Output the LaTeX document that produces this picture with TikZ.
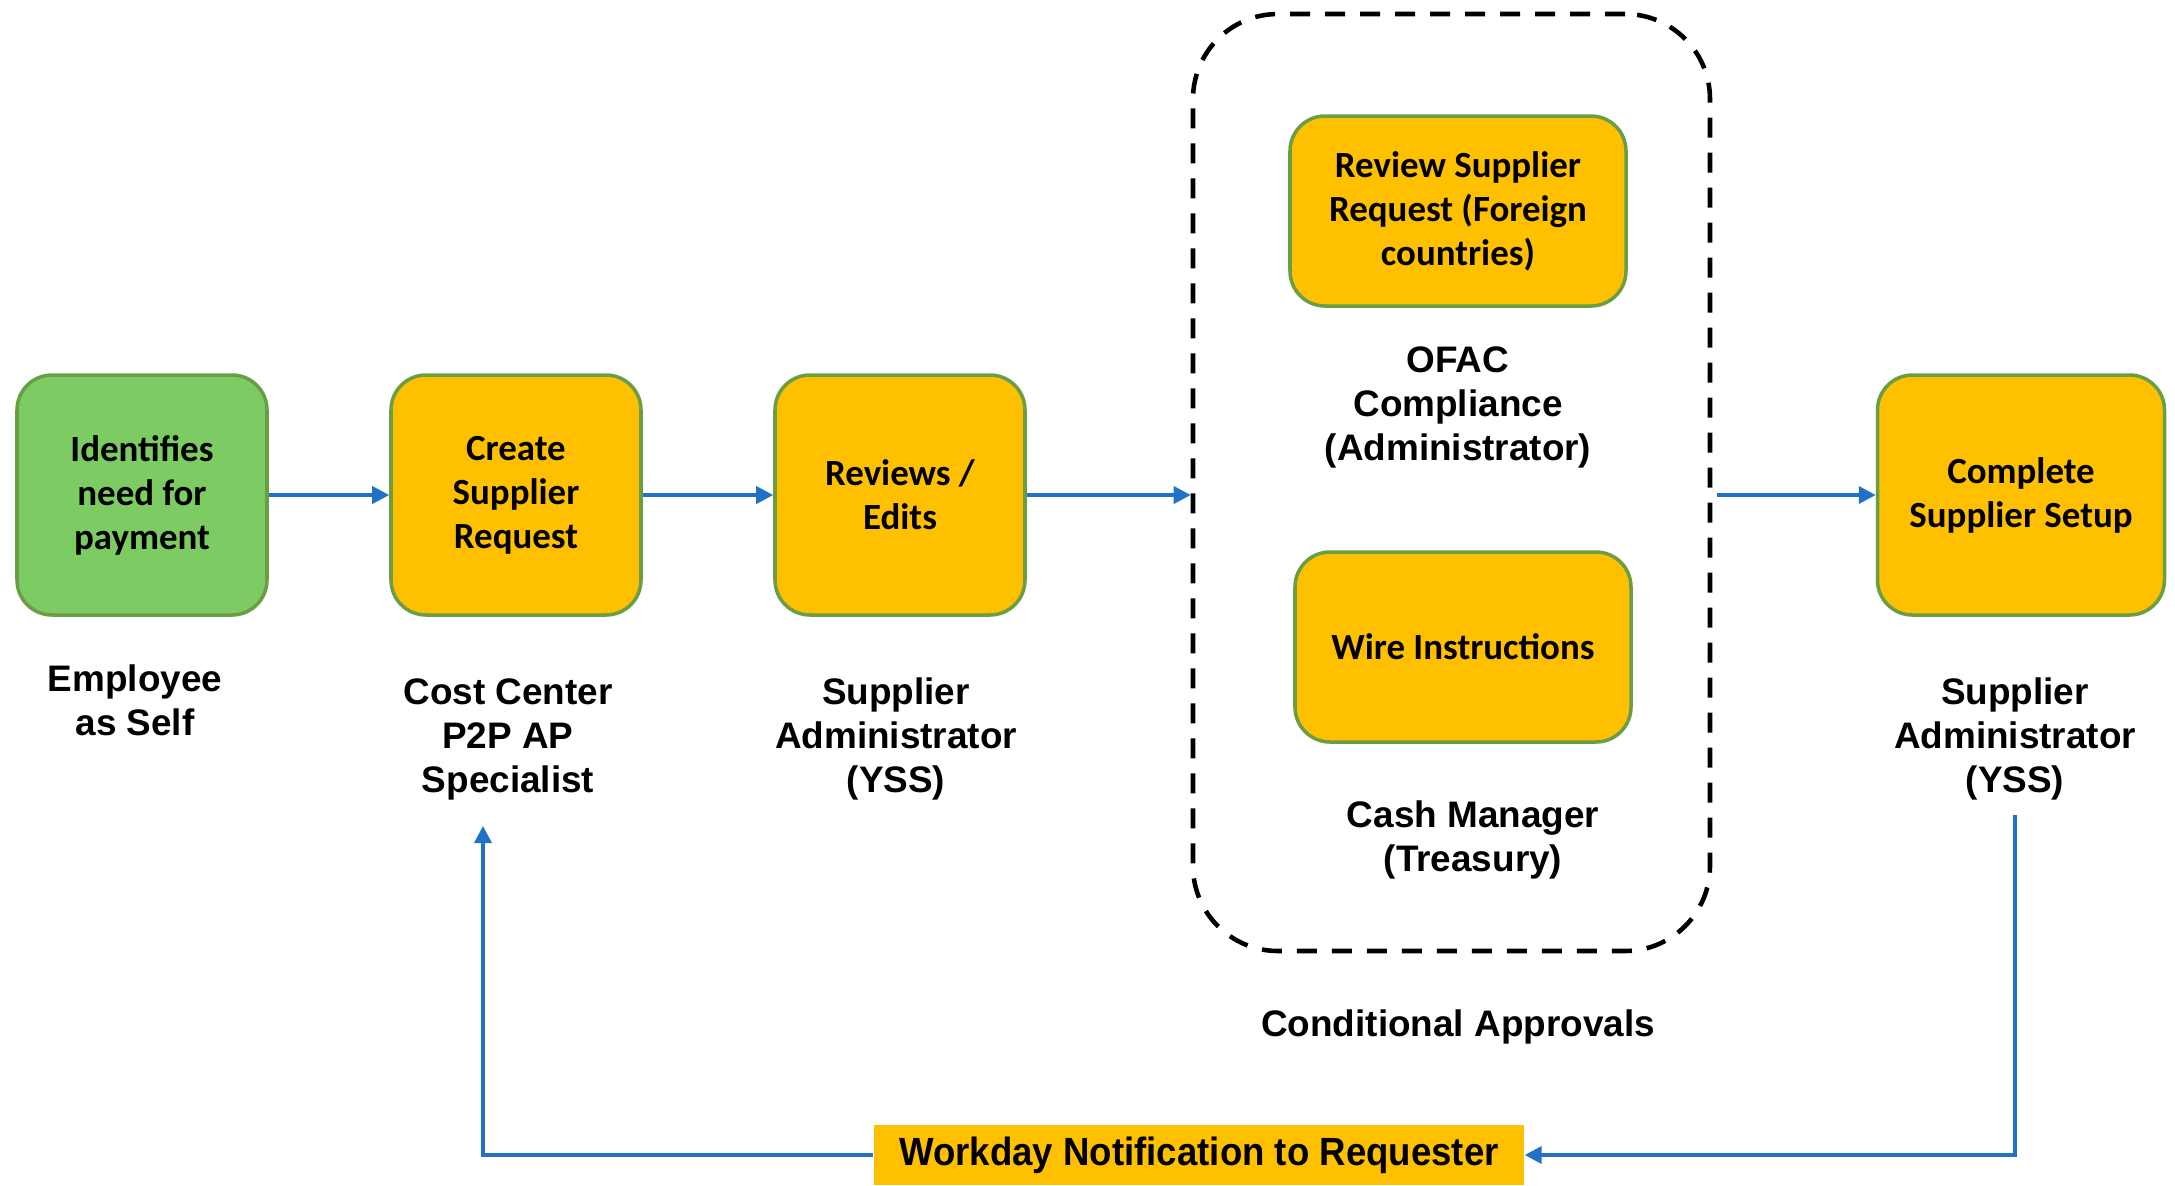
\documentclass[tikz,border=0pt]{standalone}
\usepackage{fontspec}
\setmainfont{Liberation Sans}
\newfontfamily\boxfont{Carlito}
\newfontfamily\notefont[FakeStretch=0.93]{Liberation Sans}
\usetikzlibrary{arrows.meta}

\definecolor{stepgold}{HTML}{FFC000}
\definecolor{stepgreen}{HTML}{7DCB63}
\definecolor{edgegreen}{HTML}{6A9E45}
\definecolor{flowblue}{HTML}{1F72C6}

\tikzset{
  stepbox/.style={draw=edgegreen,line width=1pt,fill=stepgold,rounded corners=0.35cm,
    minimum width=2.5cm,minimum height=2.4cm,align=center,
    font=\boxfont\bfseries\fontsize{10.5}{12.5}\selectfont},
  rolelabel/.style={align=center,font=\bfseries\fontsize{10.5}{12.5}\selectfont},
  flow/.style={-{Triangle[length=0.17cm,width=0.17cm]},flowblue,line width=1pt},
}

\begin{document}
\begin{tikzpicture}
\useasboundingbox (0,0) rectangle (21.75,-11.85);
%\draw[step=1cm,gray,very thin] (0,0) grid (21.75,-11.85); %background grid

% the process steps
\node[stepbox,fill=stepgreen] (need) at (1.42,-4.95) {Identifies\\need for\\payment};
\node[stepbox] (create) at (5.16,-4.95) {Create\\Supplier\\Request};
\node[stepbox] (edits) at (9.00,-4.95) {Reviews /\\Edits};
\node[stepbox,minimum width=2.87cm] (setup) at (20.21,-4.95) {Complete\\Supplier Setup};

% conditional approvals group
\node[draw,dashed,dash pattern=on 0.2cm off 0.15cm,line width=1.3pt,rounded corners=0.85cm,
  minimum width=5.17cm,minimum height=9.37cm] (approvals) at (14.515,-4.825) {};
\node[stepbox,minimum width=3.36cm,minimum height=1.9cm] (foreign) at (14.58,-2.11)
  {Review Supplier\\Request (Foreign\\countries)};
\node[stepbox,minimum width=3.36cm,minimum height=1.9cm] (wire) at (14.63,-6.47) {Wire Instructions};

% who does each step
\node[rolelabel] (self) at (1.35,-7.0) {Employee\\as Self};
\node[rolelabel] (costctr) at (5.08,-7.39) {Cost Center\\P2P AP\\Specialist};
\node[rolelabel] (yssa) at (8.96,-7.39) {Supplier\\Administrator\\(YSS)};
\node[rolelabel] (ofac) at (14.58,-4.07) {OFAC\\Compliance\\(Administrator)};
\node[rolelabel] (cash) at (14.73,-8.40) {Cash Manager\\(Treasury)};
\node[rolelabel] (cond) at (14.58,-10.27) {Conditional Approvals};
\node[rolelabel] (yssb) at (20.15,-7.39) {Supplier\\Administrator\\(YSS)};

\node[fill=stepgold,minimum width=6.5cm,minimum height=0.6cm,inner sep=0pt,
  font=\notefont\bfseries\fontsize{11.2}{13}\selectfont] (notify) at (11.99,-11.55)
  {Workday Notification to Requester};

\coordinate (yssout) at (20.15,-8.15);
\coordinate (ccin) at (4.83,-8.26);

% arrows
\draw[flow] (need) -- (create);
\draw[flow] (create) -- (edits);
\draw[flow] (edits.east) -- (edits.east -| approvals.west);
\draw[flow] ([xshift=0.05cm]approvals.east |- setup.west) -- (setup.west);
\draw[flow] (yssout) |- (notify);
\draw[flow] (notify) -| (ccin);
\end{tikzpicture}
\end{document}
